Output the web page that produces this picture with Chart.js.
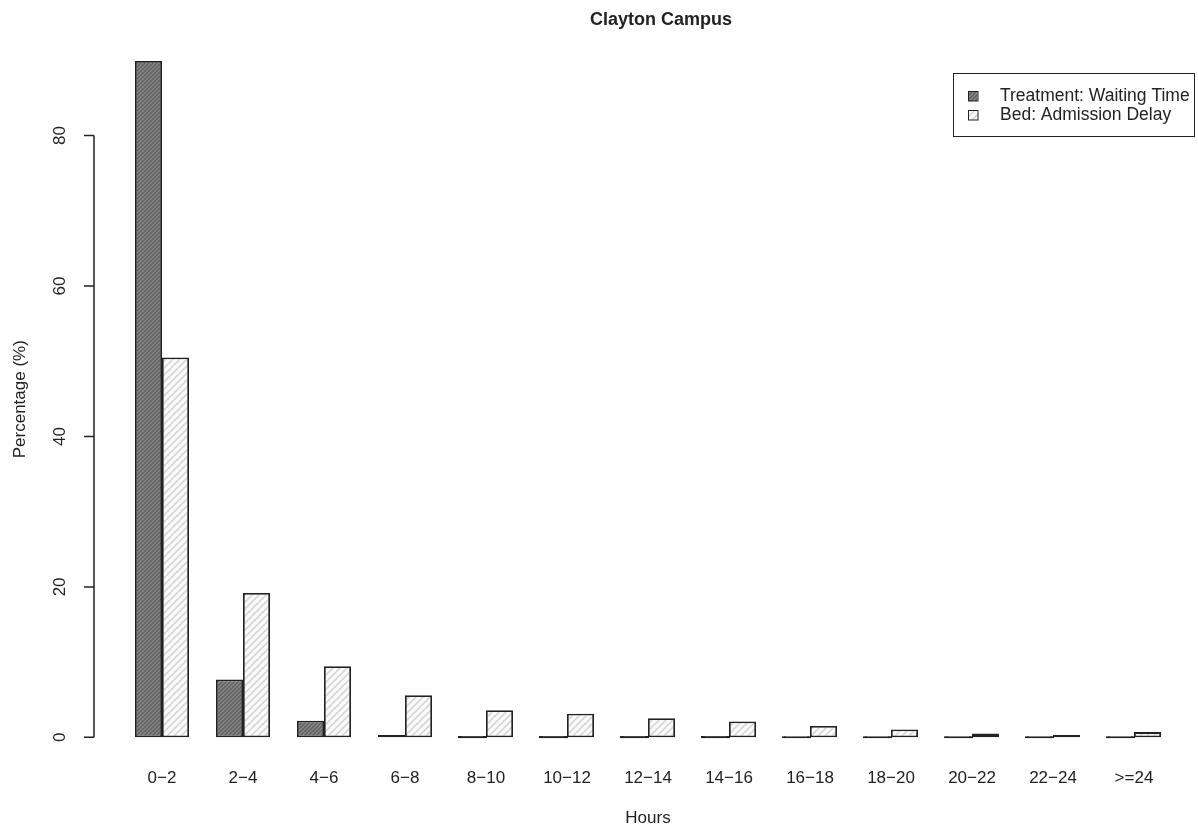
<!DOCTYPE html>
<html>
<head>
<meta charset="utf-8">
<title>Clayton Campus</title>
<script src="https://cdn.jsdelivr.net/npm/chart.js@4.4.0/dist/chart.umd.min.js"></script>
<style>
  html, body { margin: 0; padding: 0; background: #ffffff; }
  canvas { display: block; }
</style>
</head>
<body>
<canvas id="chart" width="1198" height="829"></canvas>
<script>
// Hour bands on the x axis
const hourBands = ['0\u22122', '2\u22124', '4\u22126', '6\u22128', '8\u221210', '10\u221212',
  '12\u221214', '14\u221216', '16\u221218', '18\u221220', '20\u221222', '22\u221224', '>=24'];

// Percentage of patients in each band
const treatmentWaitingTime = [89.9, 7.7, 2.2, 0.3, 0.05, 0.04, 0.03, 0.03, 0.02, 0.02, 0.01, 0.01, 0.01];
const bedAdmissionDelay    = [50.5, 19.2, 9.45, 5.6, 3.6, 3.15, 2.55, 2.1, 1.5, 1.05, 0.5, 0.3, 0.7];

const seriesNames = ['Treatment: Waiting Time', 'Bed: Admission Delay'];
const yTickValues = [0, 20, 40, 60, 80];
const chartTitle = 'Clayton Campus';

const FONT = '"Liberation Sans", Arial, Helvetica, sans-serif';
const INK = '#222222';

const canvas = document.getElementById('chart');
const ctx = canvas.getContext('2d');

// Diagonal shading tiles for the bar fills
function hatch(bg, line, gap, width) {
  const tile = document.createElement('canvas');
  tile.width = gap; tile.height = gap;
  const g = tile.getContext('2d');
  g.fillStyle = bg;
  g.fillRect(0, 0, gap, gap);
  g.strokeStyle = line;
  g.lineWidth = width;
  g.beginPath();
  g.moveTo(-1, gap + 1); g.lineTo(gap + 1, -1);
  g.moveTo(-1, 1); g.lineTo(1, -1);
  g.moveTo(gap - 1, gap + 1); g.lineTo(gap + 1, gap - 1);
  g.stroke();
  return ctx.createPattern(tile, 'repeat');
}
const darkFill = hatch('#858585', '#5a5a5a', 4, 1.2);
const lightFill = hatch('#fbfbfb', '#d6d6d6', 7, 1.6);

const yPeak = Math.max(...treatmentWaitingTime, ...bedAdmissionDelay);

// Base-R style left axis: line only over the tick range, rotated labels
const leftAxis = {
  id: 'leftAxis',
  afterDraw(chart) {
    const { ctx: c, chartArea, scales: { y } } = chart;
    const x0 = chartArea.left - 27.5;
    c.save();
    c.strokeStyle = INK;
    c.lineWidth = 1.5;
    c.beginPath();
    c.moveTo(x0, y.getPixelForValue(yTickValues[0]));
    c.lineTo(x0, y.getPixelForValue(yTickValues[yTickValues.length - 1]));
    yTickValues.forEach(v => {
      const py = y.getPixelForValue(v);
      c.moveTo(x0, py);
      c.lineTo(x0 - 10, py);
    });
    c.stroke();
    c.fillStyle = INK;
    c.font = '17px ' + FONT;
    c.textAlign = 'center';
    c.textBaseline = 'middle';
    yTickValues.forEach(v => {
      c.save();
      c.translate(x0 - 34, y.getPixelForValue(v));
      c.rotate(-Math.PI / 2);
      c.fillText(String(v), 0, 0);
      c.restore();
    });
    c.save();
    c.translate(20, (chartArea.top + chartArea.bottom) / 2);
    c.rotate(-Math.PI / 2);
    c.fillText('Percentage (%)', 0, 0);
    c.restore();
    // main title above the plot region
    c.font = 'bold 18px ' + FONT;
    c.fillText(chartTitle, 661, 20);
    c.restore();
  }
};

// Boxed legend in the top-right corner
const boxedLegend = {
  id: 'boxedLegend',
  afterDraw(chart) {
    const c = chart.ctx;
    c.save();
    c.strokeStyle = INK;
    c.lineWidth = 1;
    c.strokeRect(953.5, 73.5, 241, 63);
    c.font = '17.5px ' + FONT;
    c.textAlign = 'left';
    c.textBaseline = 'middle';
    chart.data.datasets.forEach((ds, i) => {
      const cy = 96 + i * 19;
      c.fillStyle = ds.legendFill;
      c.fillRect(968, cy - 4.5, 9.5, 9.5);
      c.strokeRect(968.5, cy - 4.5, 9.5, 9.5);
      c.fillStyle = INK;
      c.fillText(ds.label, 1000, cy);
    });
    c.restore();
  }
};

new Chart(ctx, {
  type: 'bar',
  data: {
    labels: hourBands,
    datasets: [
      {
        label: seriesNames[0],
        data: treatmentWaitingTime,
        legendFill: darkFill,
        backgroundColor: c => (c.raw < 0.2 ? INK : darkFill),
        inflateAmount: c => (c.raw < 0.2 ? 1 : 0),
        borderColor: INK,
        borderWidth: 1.8,
        borderSkipped: false
      },
      {
        label: seriesNames[1],
        data: bedAdmissionDelay,
        legendFill: lightFill,
        backgroundColor: lightFill,
        inflateAmount: 0,
        borderColor: INK,
        borderWidth: 1.8,
        borderSkipped: false
      }
    ]
  },
  options: {
    responsive: false,
    animation: false,
    devicePixelRatio: 1,
    events: [],
    categoryPercentage: 54 / 81,
    barPercentage: 1,
    layout: { padding: { left: 121.5, right: 23.5, top: 34, bottom: 0 } },
    plugins: {
      legend: { display: false },
      tooltip: { enabled: false },
      title: { display: false }
    },
    scales: {
      x: {
        offset: true,
        grid: { display: false, drawTicks: false },
        border: { display: false },
        ticks: { color: INK, font: { family: FONT, size: 17 }, padding: 3.8, maxRotation: 0, autoSkip: false },
        title: {
          display: true,
          text: 'Hours',
          color: INK,
          font: { family: FONT, size: 17 },
          padding: { top: 15.4, bottom: 0.8 }
        }
      },
      y: {
        display: false,
        min: -0.04 * yPeak,
        max: 1.04 * yPeak
      }
    }
  },
  plugins: [leftAxis, boxedLegend]
});
</script>
</body>
</html>
